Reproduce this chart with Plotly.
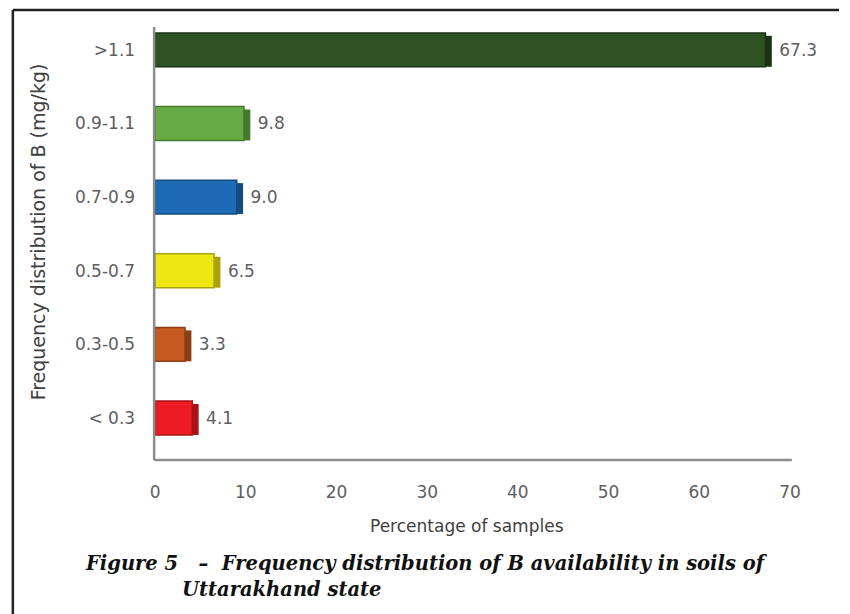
import plotly.graph_objects as go

# Boron availability classes (mg/kg) and share of soil samples (%)
classes = ["< 0.3", "0.3-0.5", "0.5-0.7", "0.7-0.9", "0.9-1.1", ">1.1"]
percent = [4.1, 3.3, 6.5, 9.0, 9.8, 67.3]
bar_colors = ["#ED1C24", "#C55A22", "#EDE714", "#1F6AB5", "#67AB45", "#2F5224"]
edge_colors = ["#A8141A", "#8A3E17", "#A9A40E", "#164B80", "#487830", "#1C3215"]
x_ticks = [0, 10, 20, 30, 40, 50, 60, 70]

# thickness of the shaded end face that gives the bars a bevelled look
FACE_DEPTH = 0.7

W, H = 850, 614
px = lambda v: v / W
py = lambda v: 1 - v / H

tick_font = dict(family="DejaVu Sans", size=17, color="#5E5E5E")
title_font = dict(family="DejaVu Sans", size=17, color="#404040")
caption_font = dict(family="DejaVu Serif", size=19.5, color="#111111",
                    style="italic", weight="bold")

fig = go.Figure()
fig.add_trace(
    go.Bar(
        x=percent,
        y=classes,
        orientation="h",
        width=0.46,
        marker=dict(color=bar_colors, line=dict(color=edge_colors, width=1.5)),
        text=[f"\u00a0\u00a0{v:.1f}" for v in percent],
        textposition="outside",
        textfont=tick_font,
        cliponaxis=False,
        hoverinfo="skip",
    )
)
# darker end face of each bar
fig.add_trace(
    go.Bar(
        x=[FACE_DEPTH] * len(percent),
        base=percent,
        y=classes,
        orientation="h",
        width=0.42,
        offset=-0.23,
        marker=dict(color=edge_colors, line=dict(width=0)),
        hoverinfo="skip",
    )
)

fig.update_layout(
    width=W,
    height=H,
    margin=dict(l=0, r=0, t=0, b=0),
    paper_bgcolor="white",
    plot_bgcolor="white",
    showlegend=False,
    barmode="overlay",
    xaxis=dict(
        domain=[px(153), px(800)],
        range=[0, 70],
        tickvals=x_ticks,
        tickfont=tick_font,
        showgrid=False,
        zeroline=False,
        showline=False,
        ticks="",
        ticklabelstandoff=20,
    ),
    yaxis=dict(
        domain=[py(460), py(13)],
        range=[-0.57, 5.5],
        categoryorder="array",
        categoryarray=classes,
        tickfont=tick_font,
        showgrid=False,
        zeroline=False,
        showline=False,
        ticks="",
        ticklabelstandoff=19,
    ),
    shapes=[
        # axis lines
        dict(type="line", xref="paper", yref="paper",
             x0=px(152), x1=px(802), y0=py(460), y1=py(460),
             line=dict(color="#8C8C8C", width=2.5)),
        dict(type="line", xref="paper", yref="paper",
             x0=px(152), x1=px(152), y0=py(27), y1=py(460),
             line=dict(color="#8C8C8C", width=2.5)),
        # frame around the figure
        dict(type="line", xref="paper", yref="paper",
             x0=px(8), x1=1.0, y0=py(10), y1=py(10),
             line=dict(color="#222222", width=2.5)),
        dict(type="line", xref="paper", yref="paper",
             x0=px(8), x1=px(8), y0=py(10), y1=0,
             line=dict(color="#222222", width=2.5)),
    ],
    annotations=[
        dict(text="Percentage of samples", xref="paper", yref="paper",
             x=px(471), y=py(526), xanchor="center", yanchor="middle",
             showarrow=False, font=title_font),
        dict(text="Frequency distribution of B (mg/kg)", xref="paper", yref="paper",
             x=px(34), y=py(232), xanchor="center", yanchor="middle",
             textangle=-90, showarrow=False,
             font=dict(title_font, size=19)),
        dict(text="Figure 5\u00a0\u00a0\u00a0–\u00a0\u00a0Frequency distribution of B availability in soils of",
             xref="paper", yref="paper", x=px(80), y=py(563),
             xanchor="left", yanchor="middle", showarrow=False,
             font=caption_font),
        dict(text="Uttarakhand state",
             xref="paper", yref="paper", x=px(178), y=py(589),
             xanchor="left", yanchor="middle", showarrow=False,
             font=caption_font),
    ],
)

fig.write_html("out.html")
